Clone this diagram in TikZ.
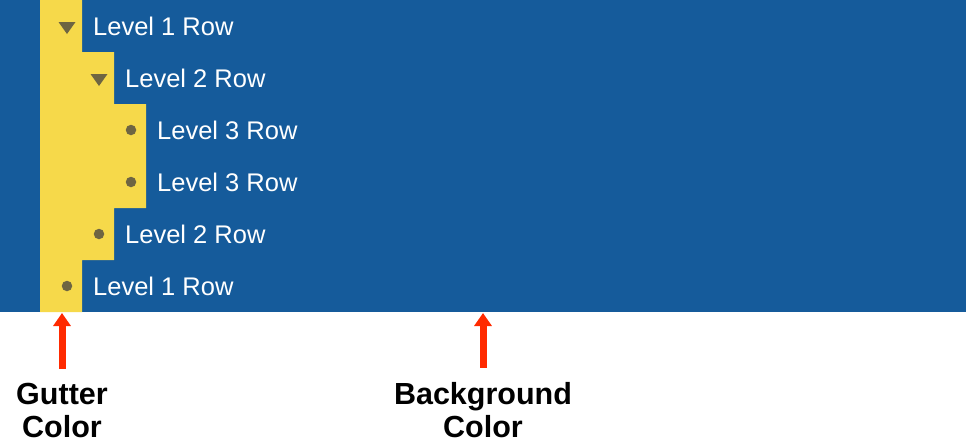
\documentclass[tikz,border=0pt]{standalone}
\usepackage{fontspec}
\setmainfont{Liberation Sans}
\usetikzlibrary{arrows.meta}
\definecolor{bgblue}{RGB}{21,91,155}
\definecolor{gutteryellow}{RGB}{246,217,74}
\definecolor{markgray}{RGB}{110,101,66}
\definecolor{pointred}{RGB}{255,42,0}
\tikzset{rowtext/.style={anchor=base west, inner sep=0pt, text=white, font=\fontsize{25.5}{30}\selectfont},
  dot/.style={circle, fill=markgray, inner sep=0pt, minimum size=10.5pt},
  tagtext/.style={anchor=base, inner sep=0pt, align=center, font=\bfseries\fontsize{30.5}{33}\selectfont},
  pointer/.style={draw=pointred, line width=7pt, shorten <=14pt, -{Triangle[width=17pt,length=13pt]}}}

\begin{document}
\begin{tikzpicture}[x=1pt, y=-1pt]
            \useasboundingbox (0,0) rectangle (966,442);
            \fill[white] (0,0) rectangle (966,442);
            \fill[bgblue] (0,0) rectangle (966,312);
            \fill[gutteryellow] (40,0) -- (82,0) -- (82,52) -- (114,52) -- (114,104) -- (146,104)
                -- (146,208) -- (114,208) -- (114,260) -- (82,260) -- (82,312) -- (40,312) -- cycle;

            % expand markers
            \fill[markgray] (58.5,22) -- (75.5,22) -- (67,34) -- cycle;
            \fill[markgray] (90.5,74) -- (107.5,74) -- (99,86) -- cycle;
            \node[dot] (d3a) at (131,130) {};
            \node[dot] (d3b) at (131,182) {};
            \node[dot] (d2b) at (99,234) {};
            \node[dot] (d1b) at (67,286) {};

            \node[rowtext] (r1a) at (93,35) {Level 1 Row};
            \node[rowtext] (r2a) at (125,87) {Level 2 Row};
            \node[rowtext] (r3a) at (157,139) {Level 3 Row};
            \node[rowtext] (r3b) at (157,191) {Level 3 Row};
            \node[rowtext] (r2b) at (125,243) {Level 2 Row};
            \node[rowtext] (r1b) at (93,295) {Level 1 Row};

            \coordinate (gutterend) at (62,313);
            \coordinate (bgend) at (483,313);
            \node[tagtext] (gutterlbl) at (62,437) {Gutter\\Color};
            \node[tagtext] (bglbl) at (483,437) {Background\\Color};

            \draw[pointer] (gutterlbl.north) -- (gutterend);
            \draw[pointer] (bglbl.north) -- (bgend);
        \end{tikzpicture}
\end{document}
